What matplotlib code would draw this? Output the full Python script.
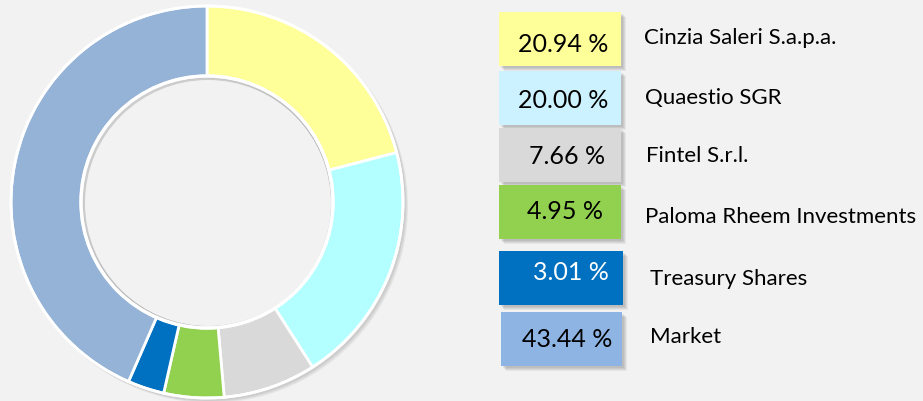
import matplotlib
matplotlib.use("Agg")
import matplotlib.pyplot as plt
from matplotlib.patches import Rectangle, Circle

labels = ["Cinzia Saleri S.a.p.a.", "Quaestio SGR", "Fintel S.r.l.",
          "Paloma Rheem Investments", "Treasury Shares", "Market"]
values = [20.94, 20.00, 7.66, 4.95, 3.01, 43.44]
slice_colors = ["#FFFF99", "#B3FFFF", "#D9D9D9", "#92D050", "#0070C0", "#95B3D7"]
box_colors = ["#FFFF99", "#CCF2FF", "#D9D9D9", "#92D050", "#0070C0", "#8DB4E2"]
text_colors = ["black", "black", "black", "black", "white", "black"]

W, H = 923, 402
fig = plt.figure(figsize=(W / 100, H / 100), dpi=100)
fig.patch.set_facecolor("#F2F2F2")
ax = fig.add_axes([0, 0, 1, 1])
ax.set_facecolor("#F2F2F2")

def Y(y):
    return H - y

cx, cy, R, r = 207, Y(203), 196, 126

# soft shadow behind the donut
for i, a in enumerate([0.05, 0.05, 0.05]):
    ax.add_patch(Circle((cx + 2 + i, cy - 2 - i), R + 1, color="black", alpha=a, lw=0, zorder=1))

wedges, _ = ax.pie(values, colors=slice_colors, startangle=90, counterclock=False,
                   center=(cx, cy), radius=R, frame=True,
                   wedgeprops=dict(width=R - r, edgecolor="white", linewidth=2))
for w in wedges:
    w.set_zorder(2)
ax.add_patch(Circle((cx, cy), R, fill=False, ec="white", lw=2, zorder=3))
# inner shadow (offset toward top-left)
for i, a in enumerate([0.10, 0.07, 0.04]):
    ax.add_patch(Circle((cx - 1.5, cy + 1.5), r - 1 - i, fill=False, ec="black",
                        alpha=a, lw=1.2, zorder=3))
ax.add_patch(Circle((cx + 1, cy - 1), r - 3, color="#F2F2F2", lw=0, zorder=3))
ax.add_patch(Circle((cx, cy), r, fill=False, ec="white", lw=2.5, zorder=4))

# boxes: (x0, y0, x1, y1) in pixels, text center y, text right edge
boxes = [(499, 13, 621, 67), (499, 72, 621, 126), (499, 129, 621, 183),
         (499, 186, 621, 240), (499, 252, 623, 306), (501, 313, 622, 367)]
text_y = [45, 101, 157, 212, 272, 340]
text_right = [608, 608, 605, 603, 609, 612]
label_pos = [(644, 38), (645, 98), (646, 156), (645, 217), (650, 279), (650, 337)]

for i in range(len(labels)):
    x0, y0, x1, y1 = boxes[i]
    for k, a in enumerate([0.06, 0.06, 0.06, 0.05]):
        ax.add_patch(Rectangle((x0 + 2 + k, Y(y1) - 2 - k), x1 - x0, y1 - y0,
                               color="black", alpha=a, lw=0, zorder=5))
    ax.add_patch(Rectangle((x0, Y(y1)), x1 - x0, y1 - y0, color=box_colors[i], lw=0, zorder=6))
    ax.text(text_right[i], Y(text_y[i]), f"{values[i]:.2f} %", ha="right", va="center",
            fontsize=18, color=text_colors[i], family="Lato", zorder=7)
    lx, ly = label_pos[i]
    ax.text(lx, Y(ly), labels[i], ha="left", va="center", fontsize=16,
            color="black", family="Lato", zorder=7)

ax.set_xlim(0, W)
ax.set_ylim(0, H)
ax.set_aspect("auto")
ax.set_axis_off()
fig.savefig("out.png", dpi=100, facecolor=fig.get_facecolor())
